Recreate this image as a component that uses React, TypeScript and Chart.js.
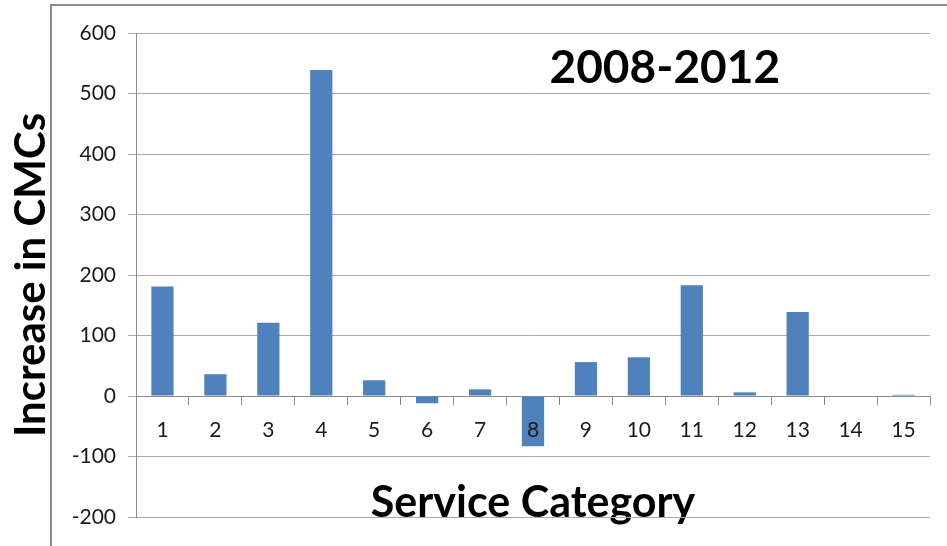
import React, { useEffect, useRef } from "react";
import { Chart, registerables } from "chart.js";

Chart.register(...registerables);

const categories = ["1", "2", "3", "4", "5", "6", "7", "8", "9", "10", "11", "12", "13", "14", "15"];
const increases = [181, 36, 121, 539, 26, -12, 11, -83, 56, 64, 183, 6, 139, 0, 2];
const periodLabel = "2008-2012";
const xTitle = "Service Category";
const yTitle = "Increase in CMCs";
const yMin = -200;
const yMax = 600;
const yStep = 100;

const FONT = "Lato";

const decorPlugin = {
  id: "decor",
  beforeDraw(chart: any) {
    const { ctx } = chart;
    ctx.save();
    ctx.strokeStyle = "#8c8c8c";
    ctx.lineWidth = 2;
    ctx.beginPath();
    ctx.moveTo(51, chart.height);
    ctx.lineTo(51, 5);
    ctx.lineTo(chart.width, 5);
    ctx.stroke();
    ctx.restore();
  },
  afterDraw(chart: any) {
    const { ctx, chartArea } = chart;
    ctx.save();
    ctx.fillStyle = "#000";
    ctx.font = `bold 46px ${FONT}`;
    ctx.textAlign = "center";
    ctx.textBaseline = "alphabetic";
    const x = chartArea.left + (chartArea.right - chartArea.left) * 0.666;
    ctx.fillText(periodLabel, x, 83);
    ctx.restore();
  },
};

export default function App() {
  const ref = useRef<HTMLCanvasElement | null>(null);
  useEffect(() => {
    if (!ref.current) return;
    const chart = new Chart(ref.current, {
      type: "bar",
      data: {
        labels: categories,
        datasets: [
          {
            data: increases,
            backgroundColor: "#4F81BD",
            borderColor: "#4F81BD",
            borderWidth: 0,
            barPercentage: 0.42,
            categoryPercentage: 1,
          },
        ],
      },
      options: {
        animation: false,
        responsive: false,
        maintainAspectRatio: false,
        layout: { padding: { left: 0, top: 33, right: 17, bottom: 29 } },
        plugins: { legend: { display: false }, tooltip: { enabled: false } },
        scales: {
          x: {
            position: { y: 0 } as any,
            offset: true,
            grid: {
              display: true,
              offset: true,
              drawOnChartArea: false,
              drawTicks: true,
              tickLength: 8,
              color: "#8c8c8c",
            },
            border: { display: true, color: "#8c8c8c" },
            ticks: { z: 1, font: { family: FONT, size: 21 }, color: "#1a1a1a", padding: 14 },
            title: {
              display: true,
              text: xTitle,
              font: { family: FONT, size: 43, weight: "bold" },
              color: "#000",
              padding: { top: 20, bottom: 0 },
            },
          },
          y: {
            min: yMin,
            max: yMax,
            ticks: { stepSize: yStep, font: { family: FONT, size: 21 }, color: "#1a1a1a", padding: 12 },
            grid: { color: "#ababab", tickLength: 8 },
            border: { display: true, color: "#8c8c8c" },
            title: {
              display: true,
              text: yTitle,
              font: { family: FONT, size: 42, weight: "bold" },
              color: "#000",
              padding: { top: 6, bottom: 0 },
            },
            afterFit: (s: any) => {
              s.width = 136;
            },
          },
        },
      },
      plugins: [decorPlugin],
    });
    return () => chart.destroy();
  }, []);
  return (
    <div style={{ position: "absolute", left: 0, top: 0, width: 947, height: 546, background: "#fff" }}>
      <canvas ref={ref} width={947} height={546} style={{ width: 947, height: 546 }} />
    </div>
  );
}
